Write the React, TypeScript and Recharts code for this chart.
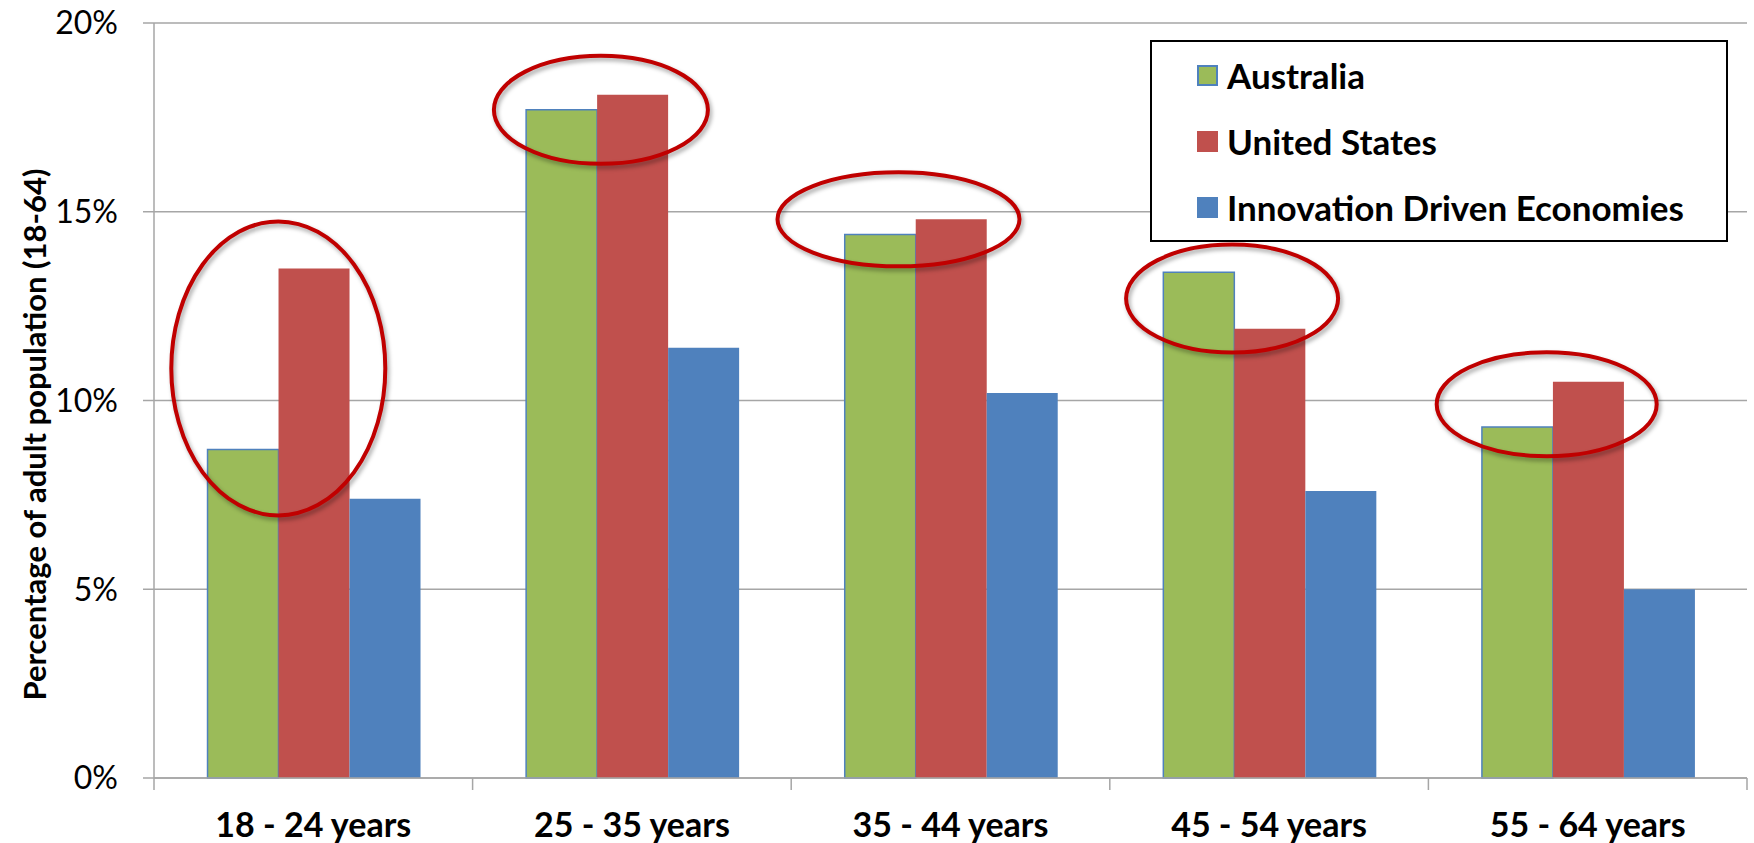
import { BarChart, Bar, XAxis, YAxis, CartesianGrid, Legend, ReferenceDot } from "recharts"

const ageGroups = ["18 - 24 years", "25 - 35 years", "35 - 44 years", "45 - 54 years", "55 - 64 years"]
const australia = [8.7, 17.7, 14.4, 13.4, 9.3]
const unitedStates = [13.5, 18.1, 14.8, 11.9, 10.5]
const innovationDriven = [7.4, 11.4, 10.2, 7.6, 5.0]
const yTicks = [0, 5, 10, 15, 20]
// centre of each red highlight ring, in % of adult population
const highlightCentres = [10.85, 17.7, 14.8, 12.7, 9.9]

const data = ageGroups.map((group, i) => ({
  group,
  australia: australia[i],
  unitedStates: unitedStates[i],
  innovationDriven: innovationDriven[i],
}))

const series = [
  { key: "australia", name: "Australia", color: "#9BBB59", border: "#4F81BD" },
  { key: "unitedStates", name: "United States", color: "#C0504D", border: "none" },
  { key: "innovationDriven", name: "Innovation Driven Economies", color: "#4F81BD", border: "none" },
]

// ring sizes and horizontal nudge from the band centre (px)
const ringStyles = [
  { rx: 107, ry: 147, dx: -35 },
  { rx: 107, ry: 54, dx: -31 },
  { rx: 121, ry: 47, dx: -52 },
  { rx: 106, ry: 54, dx: -37 },
  { rx: 110, ry: 52, dx: -41 },
]

const font = "Lato, 'DejaVu Sans', sans-serif"
const gridColor = "#A6A6A6"

function YLabel({ viewBox }: any) {
  const cx = viewBox.x + 34
  const cy = viewBox.y + viewBox.height / 2 + 34
  return (
    <text
      x={cx}
      y={cy}
      transform={`rotate(-90 ${cx} ${cy})`}
      textAnchor="middle"
      dominantBaseline="central"
      fontFamily={font}
      fontWeight={700}
      fontSize={31}
      fill="#000"
    >
      Percentage of adult population (18-64)
    </text>
  )
}

// label plus Excel-style tick marks on the group boundaries
function AgeTick({ x, y, payload, index, visibleTicksCount }: any) {
  const half = payload.offset ?? 0
  const last = index === (visibleTicksCount ?? ageGroups.length) - 1
  return (
    <g>
      <line x1={x - half} x2={x - half} y1={y} y2={y + 12} stroke={gridColor} strokeWidth={1.5} />
      {last && <line x1={x + half} x2={x + half} y1={y} y2={y + 12} stroke={gridColor} strokeWidth={1.5} />}
      <text
        x={x}
        y={y + 35}
        dy="0.71em"
        textAnchor="middle"
        fontFamily={font}
        fontWeight={700}
        fontSize={34}
        fill="#000"
      >
        {payload.value}
      </text>
    </g>
  )
}

function LegendBox() {
  return (
    <div
      style={{
        boxSizing: "border-box",
        width: 578,
        height: 202,
        border: "2px solid #000",
        background: "#fff",
        paddingLeft: 45,
        fontFamily: font,
      }}
    >
      {series.map((s) => (
        <div key={s.key} style={{ display: "flex", alignItems: "center", height: 66 }}>
          <span
            style={{
              boxSizing: "border-box",
              width: 21,
              height: 21,
              background: s.color,
              border: s.border === "none" ? "none" : `2px solid ${s.border}`,
              marginRight: 9,
            }}
          />
          <span style={{ fontSize: 35, fontWeight: 700, color: "#000" }}>{s.name}</span>
        </div>
      ))}
    </div>
  )
}

export default function App() {
  return (
    <div style={{ position: "absolute", left: 0, top: 0, width: 1754, height: 843, background: "#fff" }}>
      <BarChart
        width={1754}
        height={843}
        data={data}
        margin={{ top: 23, right: 7, bottom: 0, left: 0 }}
        barCategoryGap="16.8%"
        barGap={0}
      >
        <CartesianGrid horizontal vertical={false} stroke={gridColor} strokeWidth={1.5} />
        <XAxis
          dataKey="group"
          height={65}
          tickSize={0}
          tickMargin={0}
          axisLine={{ stroke: gridColor, strokeWidth: 1.5 }}
          tickLine={false}
          tick={<AgeTick />}
          interval={0}
        />
        <YAxis
          width={154}
          domain={[0, 20]}
          ticks={yTicks}
          tickFormatter={(v) => `${v}%`}
          tickSize={11}
          tickMargin={25}
          axisLine={{ stroke: gridColor, strokeWidth: 1.5 }}
          tickLine={{ stroke: gridColor, strokeWidth: 1.5 }}
          tick={{ fill: "#000", fontSize: 32, fontFamily: font }}
          label={<YLabel />}
        />
        <Legend
          layout="horizontal"
          verticalAlign="middle"
          align="center"
          content={() => <LegendBox />}
          wrapperStyle={{ position: "absolute", left: 1150, top: 40, width: 578, height: 202 }}
        />
        {series.map((s) => (
          <Bar
            key={s.key}
            dataKey={s.key}
            name={s.name}
            fill={s.color}
            stroke={s.border}
            strokeWidth={s.border === "none" ? 0 : 1.5}
            isAnimationActive={false}
          />
        ))}
        {ageGroups.map((g, i) => (
          <ReferenceDot
            key={g}
            x={g}
            y={highlightCentres[i]}
            ifOverflow="visible"
            shape={(p: any) => (
              <ellipse
                cx={p.cx + ringStyles[i].dx}
                cy={p.cy}
                rx={ringStyles[i].rx}
                ry={ringStyles[i].ry}
                fill="none"
                stroke="#C00000"
                strokeWidth={4}
                style={{ filter: "drop-shadow(2px 3px 2px rgba(0,0,0,0.35))" }}
              />
            )}
          />
        ))}
      </BarChart>
    </div>
  )
}
